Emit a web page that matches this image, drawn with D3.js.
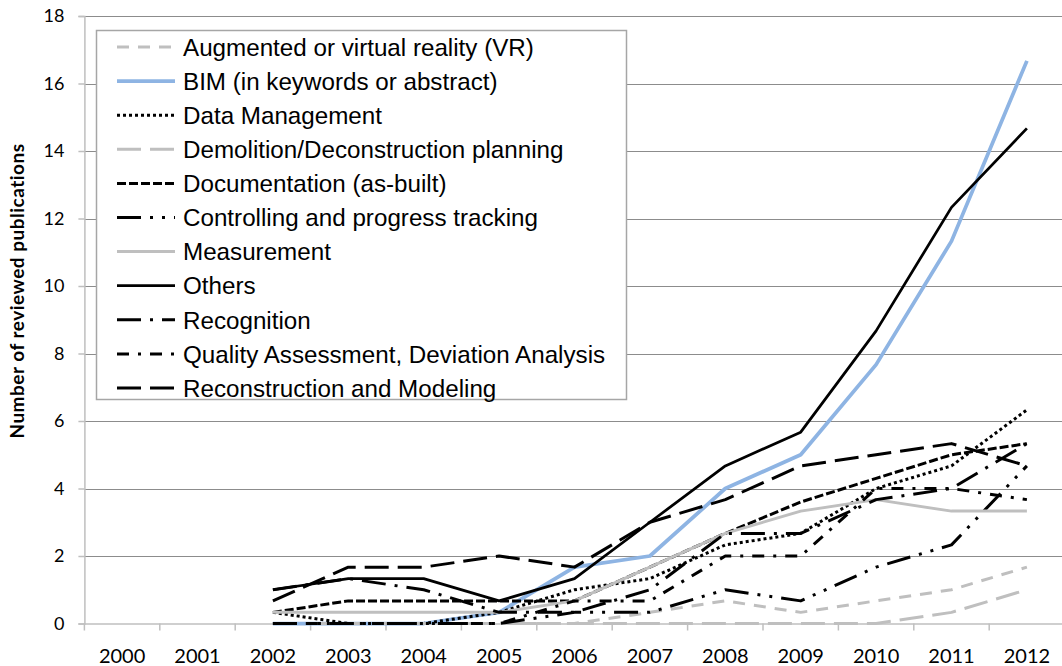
<!DOCTYPE html>
<html><head><meta charset="utf-8">
<script src="https://cdn.jsdelivr.net/npm/d3@7"></script>
<style>body{margin:0;background:#fff;overflow:hidden} svg{display:block}</style>
</head><body><svg id="c" width="1062" height="666"></svg>
<script>
const years = ["2000","2001","2002","2003","2004","2005","2006","2007","2008","2009","2010","2011","2012"];
const yTicks = [0,2,4,6,8,10,12,14,16,18];
const seriesNames = [
  "Augmented or virtual reality (VR)",
  "BIM (in keywords or abstract)",
  "Data Management",
  "Demolition/Deconstruction planning",
  "Documentation (as-built)",
  "Controlling and progress tracking",
  "Measurement",
  "Others",
  "Recognition",
  "Quality Assessment, Deviation Analysis",
  "Reconstruction and Modeling"
];
const arVr         = [null,null,0,0,0,0,0,0.33,0.67,0.33,0.67,1,1.67];
const bim          = [null,null,0,0,0,0.33,1.67,2,4,5,7.67,11.33,16.67];
const dataMgmt     = [null,null,0.33,0,0,0.33,1,1.33,2.33,2.67,4,4.67,6.33];
const demolition   = [null,null,0,0,0,0,0,0,0,0,0,0.33,1];
const documentation= [null,null,0.33,0.67,0.67,0.67,0.67,1.67,2.67,3.6,4.3,5,5.33];
const controlling  = [null,null,0,0,0,0,0.33,0.33,1,0.67,1.67,2.33,4.67];
const measurement  = [null,null,0.33,0.33,0.33,0.33,0.67,1.67,2.67,3.33,3.67,3.33,3.33];
const others       = [null,null,1,1.33,1.33,0.67,1.33,3,4.67,5.67,8.67,12.33,14.67];
const recognition  = [null,null,1,1.33,1,0.33,0.33,1,2.67,2.67,3.67,4,5.33];
const quality      = [null,null,0,0,0,0,0.67,0.67,2,2,4,4,3.67];
const reconstruction=[null,null,0.67,1.67,1.67,2,1.67,3,3.67,4.67,5,5.33,4.67];

const seriesValues = [arVr,bim,dataMgmt,demolition,documentation,controlling,measurement,others,recognition,quality,reconstruction];
const styles = [
  {c:"#bfbfbf", w:3, d:"12 9"},
  {c:"#8eb4e3", w:3.75, d:null},
  {c:"#000", w:3, d:"3 3"},
  {c:"#bfbfbf", w:3, d:"24 9"},
  {c:"#000", w:3, d:"9 3"},
  {c:"#000", w:3, d:"24 9 3 9 3 9"},
  {c:"#bfbfbf", w:3, d:null},
  {c:"#000", w:2.75, d:null},
  {c:"#000", w:3, d:"24 9 3 9"},
  {c:"#000", w:3, d:"12 9 3 9"},
  {c:"#000", w:3, d:"24 9"}
];

const svg = d3.select("#c");
const x = d3.scaleBand().domain(years).range([84.4, 1064.6]);
const y = d3.scaleLinear().domain([0,18]).range([623.5, 16]);
const cx = d => x(d) + x.bandwidth()/2;

// gridlines
svg.append("g").selectAll("line").data(yTicks.filter(v=>v>0)).join("line")
  .attr("x1", x.range()[0]).attr("x2", x.range()[1])
  .attr("y1", d=>Math.round(y(d))+0.5).attr("y2", d=>Math.round(y(d))+0.5)
  .attr("stroke","#8c8c8c").attr("stroke-width",1);

// y axis
const ya = svg.append("g").attr("transform",`translate(${x.range()[0]},0)`)
  .call(d3.axisLeft(y).tickValues(yTicks).tickSize(6).tickPadding(14).tickFormat(d3.format("d")));
ya.select(".domain").attr("stroke","#bfbfbf").attr("stroke-width",1.5);
ya.selectAll(".tick line").attr("stroke","#bfbfbf").attr("stroke-width",1.5);
ya.selectAll("text").attr("font-family","Lato, 'Open Sans', sans-serif").attr("font-size",18).attr("fill","#000");

// x axis
const xa = svg.append("g").attr("transform",`translate(0,${y(0)})`)
  .call(d3.axisBottom(x).tickSize(0).tickPadding(25));
xa.select(".domain").attr("stroke","#bfbfbf").attr("stroke-width",1.5);
xa.selectAll("text").attr("font-family","Lato, 'Open Sans', sans-serif").attr("font-size",20).attr("fill","#000");
svg.append("g").selectAll("line").data(years.map(d=>x(d)).concat([x.range()[1]])).join("line")
  .attr("x1",d=>d).attr("x2",d=>d).attr("y1",y(0)).attr("y2",y(0)+7)
  .attr("stroke","#bfbfbf").attr("stroke-width",1.5);

// y title
svg.append("text").attr("transform",`translate(24,291) rotate(-90)`)
  .attr("text-anchor","middle").attr("font-family","Lato, 'Open Sans', sans-serif")
  .attr("font-weight","bold").attr("font-size",19).attr("letter-spacing","0.5px")
  .text("Number of reviewed publications");

// lines
const line = d3.line().defined(d=>d.v!==null).x(d=>cx(d.yr)).y(d=>y(d.v));
seriesValues.forEach((vals,i)=>{
  const s = styles[i];
  svg.append("path").datum(vals.map((v,j)=>({yr:years[j], v})))
    .attr("d", line).attr("fill","none").attr("stroke", s.c).attr("stroke-width", s.w)
    .attr("stroke-dasharray", s.d).attr("stroke-linejoin","round");
});

// legend
const lg = svg.append("g");
lg.append("rect").attr("x",96.5).attr("y",30.5).attr("width",530).attr("height",369)
  .attr("fill","#fff").attr("stroke","#a6a6a6").attr("stroke-width",1.5);
const rowY = i => 47 + i*34.1;
seriesNames.forEach((n,i)=>{
  const s = styles[i];
  lg.append("line").attr("x1",117).attr("x2",175).attr("y1",rowY(i)).attr("y2",rowY(i))
    .attr("stroke",s.c).attr("stroke-width",s.w).attr("stroke-dasharray",s.d);
  lg.append("text").attr("x",183).attr("y",rowY(i)).attr("dy","0.36em")
    .attr("font-family","'Liberation Sans', Arial, sans-serif").attr("font-size",24.2).text(n);
});
</script></body></html>
